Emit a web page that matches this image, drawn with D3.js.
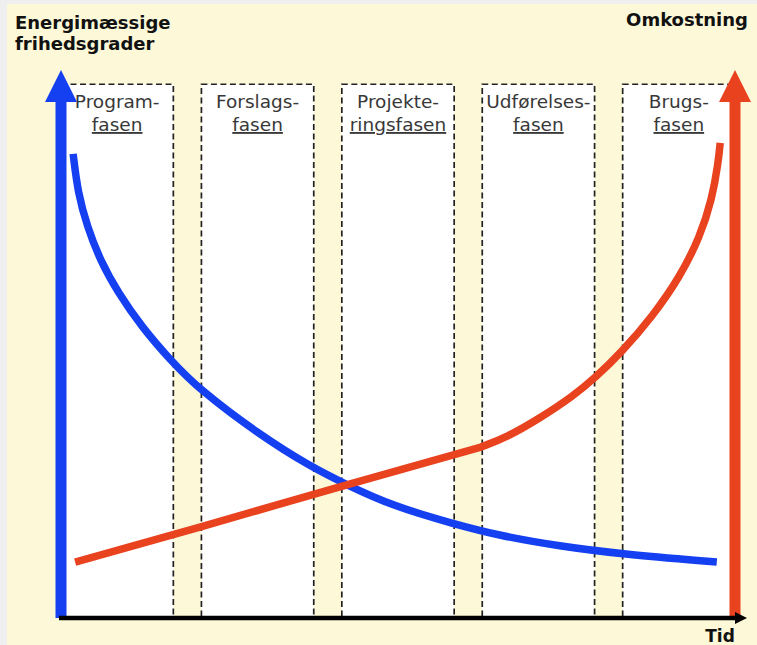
<!DOCTYPE html>
<html>
<head>
<meta charset="utf-8">
<script src="https://cdn.jsdelivr.net/npm/d3@7"></script>
<style>
  body { margin: 0; background: #f1f1f1; }
  text { font-family: "DejaVu Sans", Verdana, sans-serif; }
</style>
</head>
<body>
<div id="the_chart"></div>
<script>
// phases (two lines each, second line underlined)
var phaseTop = ["Program-", "Forslags-", "Projekte-", "Udførelses-", "Brugs-"];
var phaseBottom = ["fasen", "fasen", "ringsfasen", "fasen", "fasen"];

// energy freedom (blue), time 0..100, value 0..100
var energyT = [1.8, 2.5, 3.9, 5.8, 8.5, 12, 16.2, 20.6, 29.5, 36.9, 42.4, 49.3, 58.2, 65.1, 74, 82.9, 97.3];
var energyV = [84.7, 77.6, 71.4, 65.3, 59.3, 53.1, 47.1, 41.6, 33.4, 27.7, 24.3, 20.4, 17.2, 15.0, 13.1, 11.7, 10.2];

// cost (red), straight until the kink then curving up
var costT = [2.1, 20.6, 42.4, 62.3, 66.2, 71.1, 76.0, 79.4, 83.1, 87.8, 91.8, 94.8, 96.6, 97.5, 97.8];
var costV = [10.2, 16.6, 24.3, 31.2, 33.0, 36.5, 40.5, 44.0, 48.4, 55.1, 62.2, 69.5, 76.5, 83.0, 86.7];
var kink = 3;

var w = 757;
var h = 645;

var blue = "#1440f2";
var red = "#e9421f";

var svg = d3.select("#the_chart")
    .append("svg")
    .attr("width", w)
    .attr("height", h);

// background: grey frame on top/left, then pale yellow
svg.append("rect").attr("width", w).attr("height", h).attr("fill", "#efefef");
svg.append("rect").attr("x", 7).attr("y", 4).attr("width", w - 7).attr("height", h - 4).attr("fill", "#fcf8d8");

var x = d3.scaleLinear().domain([0, 100]).range([61, 735]);
var y = d3.scaleLinear().domain([0, 100]).range([618, 70]);

var band = d3.scaleBand()
    .domain(d3.range(phaseTop.length))
    .range([x(0), x(100)])
    .paddingInner(0.2);

var boxTop = y(97.4);

// phase boxes
var boxes = svg.selectAll("g.phase")
    .data(phaseTop)
    .enter()
    .append("g")
    .attr("class", "phase");

boxes.append("rect")
    .attr("x", function (d, i) { return band(i); })
    .attr("y", boxTop)
    .attr("width", band.bandwidth())
    .attr("height", y(0) - boxTop)
    .attr("fill", "white")
    .attr("stroke", "#222")
    .attr("stroke-width", 1.7)
    .attr("stroke-dasharray", "6,3.5");

boxes.append("text")
    .attr("x", function (d, i) { return band(i) + band.bandwidth() / 2; })
    .attr("y", 108)
    .attr("text-anchor", "middle")
    .attr("font-size", 18.5)
    .attr("fill", "#383838")
    .text(function (d) { return d; });

boxes.append("text")
    .attr("x", function (d, i) { return band(i) + band.bandwidth() / 2; })
    .attr("y", 131)
    .attr("text-anchor", "middle")
    .attr("font-size", 18.5)
    .attr("fill", "#383838")
    .attr("text-decoration", "underline")
    .text(function (d, i) { return phaseBottom[i]; });

// curves
var energy = energyT.map(function (t, i) { return [t, energyV[i]]; });
var cost = costT.map(function (t, i) { return [t, costV[i]]; });

var curved = d3.line()
    .x(function (d) { return x(d[0]); })
    .y(function (d) { return y(d[1]); })
    .curve(d3.curveBasis);
var straight = d3.line()
    .x(function (d) { return x(d[0]); })
    .y(function (d) { return y(d[1]); });

svg.append("path")
    .attr("d", curved(energy))
    .attr("fill", "none")
    .attr("stroke", blue)
    .attr("stroke-width", 7.5);

svg.append("path")
    .attr("d", straight(cost.slice(0, kink + 1)) + curved(cost.slice(kink)).replace("M", "L"))
    .attr("fill", "none")
    .attr("stroke", red)
    .attr("stroke-width", 7.5)
    .attr("stroke-linejoin", "round");

// vertical arrows
function arrow(cx, color) {
    var headLen = 32, headHalf = 16, shaftHalf = 5.5;
    var tip = y(100);
    svg.append("path")
        .attr("d", "M" + (cx - shaftHalf) + "," + y(0) +
            "L" + (cx - shaftHalf) + "," + (tip + headLen) +
            "L" + (cx - headHalf) + "," + (tip + headLen) +
            "L" + cx + "," + tip +
            "L" + (cx + headHalf) + "," + (tip + headLen) +
            "L" + (cx + shaftHalf) + "," + (tip + headLen) +
            "L" + (cx + shaftHalf) + "," + y(0) + "Z")
        .attr("fill", color);
}
arrow(x(0), blue);
arrow(x(100), red);

// time axis
svg.append("line")
    .attr("x1", x(0) - 2)
    .attr("x2", x(100) + 2)
    .attr("y1", y(0))
    .attr("y2", y(0))
    .attr("stroke", "black")
    .attr("stroke-width", 4.5);
svg.append("path")
    .attr("d", "M" + (x(100)) + "," + (y(0) - 6) + "L" + (x(100) + 12) + "," + y(0) + "L" + x(100) + "," + (y(0) + 6) + "Z")
    .attr("fill", "black");

// labels
svg.append("text").attr("x", 15).attr("y", 29)
    .attr("font-size", 18).attr("font-weight", "bold").attr("fill", "#111")
    .text("Energimæssige");
svg.append("text").attr("x", 15).attr("y", 50)
    .attr("font-size", 18).attr("font-weight", "bold").attr("fill", "#111")
    .text("frihedsgrader");
svg.append("text").attr("x", 748).attr("y", 26)
    .attr("text-anchor", "end")
    .attr("font-size", 18).attr("font-weight", "bold").attr("fill", "#111")
    .text("Omkostning");
svg.append("text").attr("x", 720).attr("y", 642)
    .attr("text-anchor", "middle")
    .attr("font-size", 17).attr("font-weight", "bold").attr("fill", "#111")
    .text("Tid");
</script>
</body>
</html>
